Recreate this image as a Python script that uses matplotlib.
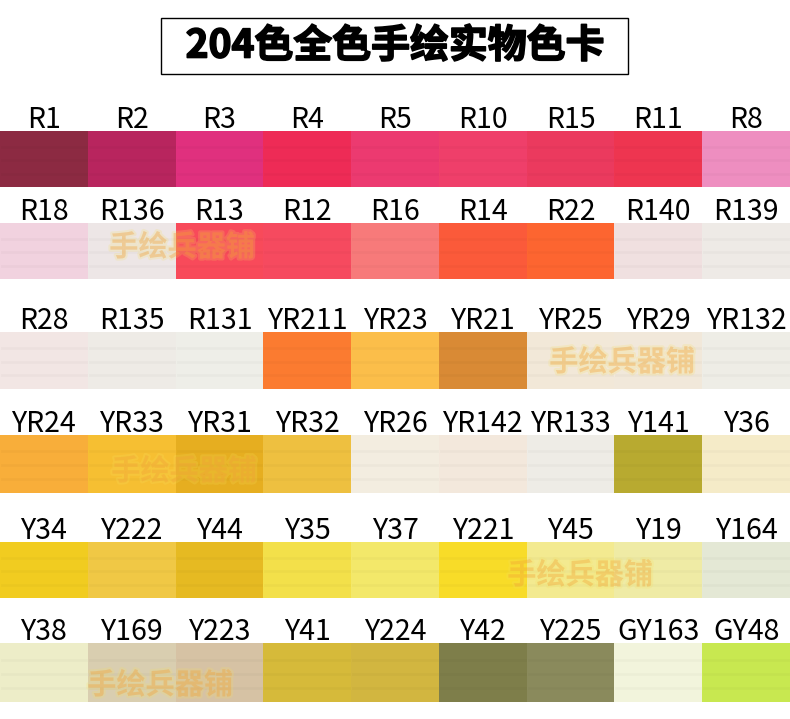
import matplotlib
matplotlib.use("Agg")
import matplotlib.pyplot as plt
from matplotlib.patches import Rectangle
import matplotlib.patheffects as pe

plt.rcParams['font.family'] = ['Noto Sans CJK SC', 'DejaVu Sans']

title = "204色全色手绘实物色卡"

# colour codes, one list per row
row1 = ["R1", "R2", "R3", "R4", "R5", "R10", "R15", "R11", "R8"]
row2 = ["R18", "R136", "R13", "R12", "R16", "R14", "R22", "R140", "R139"]
row3 = ["R28", "R135", "R131", "YR211", "YR23", "YR21", "YR25", "YR29", "YR132"]
row4 = ["YR24", "YR33", "YR31", "YR32", "YR26", "YR142", "YR133", "Y141", "Y36"]
row5 = ["Y34", "Y222", "Y44", "Y35", "Y37", "Y221", "Y45", "Y19", "Y164"]
row6 = ["Y38", "Y169", "Y223", "Y41", "Y224", "Y42", "Y225", "GY163", "GY48"]

# swatch colours
col1 = ["#8c2a42", "#b8255e", "#e0307e", "#ee2b56", "#ec3a70", "#ef3f6a", "#eb3a5e", "#ee3550", "#ee8ec0"]
col2 = ["#f1d2df", "#ede6e6", "#f84a5a", "#f64a5f", "#f77a7a", "#fb5a3a", "#fd6530", "#f0e0e0", "#eeeae6"]
col3 = ["#f2e6e4", "#eeebe6", "#eeeee8", "#fb7b30", "#fbbe4a", "#d98a35", "#f2e8d8", "#f1e8da", "#eeede6"]
col4 = ["#f8ae3a", "#f6bf32", "#e6ae20", "#eec040", "#f3ede0", "#f3e8dc", "#eeece6", "#b8aa30", "#f5ebc8"]
col5 = ["#f1cc20", "#f0c845", "#e6ba22", "#f3e04a", "#f3e86a", "#f8dc28", "#f3ea90", "#efeba5", "#e4e8d5"]
col6 = ["#ededc8", "#d9ceb0", "#d6c2a4", "#d6ba3a", "#d2b640", "#7e7e4a", "#8a8a5c", "#f2f4dc", "#c8e850"]

labels = [row1, row2, row3, row4, row5, row6]
colors = [col1, col2, col3, col4, col5, col6]

W, H = 790, 719
row_top = [131, 223, 332, 435, 542, 643]
row_h = [56, 56, 57, 58, 56, 59]
col_w = W / 9

fig = plt.figure(figsize=(W / 100, H / 100), dpi=100)
ax = fig.add_axes([0, 0, 1, 1])
ax.set_xlim(0, W)
ax.set_ylim(H, 0)
ax.axis('off')

# title in a box
ax.add_patch(Rectangle((161, 18), 467, 56, fill=False, ec='black', lw=1.0))
ax.text(395, 46, title, ha='center', va='center', fontsize=28, fontweight='heavy', color='black',
        path_effects=[pe.withStroke(linewidth=1.2, foreground='black')])

for r in range(6):
    top = row_top[r]
    for c in range(9):
        x0 = c * col_w
        ax.add_patch(Rectangle((x0, top), col_w + 0.5, row_h[r], color=colors[r][c], lw=0))
        # faint marker stroke bands
        for f in (0.28, 0.52, 0.76):
            ax.plot([x0 + 2, x0 + col_w - 2], [top + f * row_h[r]] * 2, color='black', alpha=0.025, lw=2)
        ax.text(x0 + col_w / 2, top - 3, labels[r][c], ha='center', va='baseline',
                fontsize=20.5, color='black')

# shop watermark
wm = "手绘兵器铺"
for (x, y) in [(182, 247), (622, 362), (184, 471), (580, 575), (160, 685)]:
    ax.text(x, y, wm, ha='center', va='center', fontsize=21, fontweight='bold',
            color='#f29a30', alpha=0.2,
            path_effects=[pe.withStroke(linewidth=3, foreground='#f7e060', alpha=0.2)])

fig.savefig('out.png', dpi=100)
